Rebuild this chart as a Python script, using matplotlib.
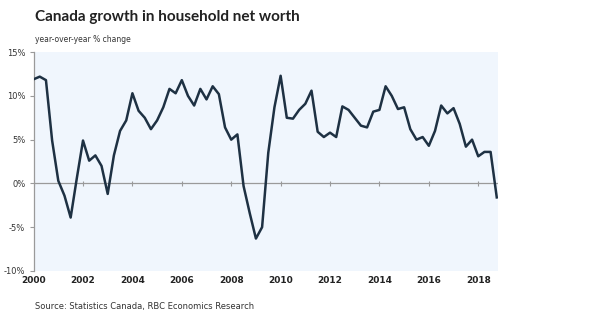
import matplotlib
matplotlib.use("Agg")
import matplotlib.pyplot as plt
import numpy as np

# quarterly, 2000Q1 .. 2018Q4
start_year = 2000
growth = [11.9, 12.2, 11.8, 4.9, 0.3, -1.4, -3.9, 0.6,
          4.9, 2.6, 3.2, 2.0, -1.2, 3.2, 6.0, 7.2,
          10.3, 8.3, 7.5, 6.2, 7.2, 8.7, 10.8, 10.3,
          11.8, 10.0, 8.9, 10.8, 9.6, 11.1, 10.2, 6.4,
          5.0, 5.6, -0.3, -3.4, -6.3, -5.0, 3.5, 8.7,
          12.3, 7.5, 7.4, 8.4, 9.1, 10.6, 5.9, 5.3,
          5.8, 5.3, 8.8, 8.4, 7.5, 6.6, 6.4, 8.2,
          8.4, 11.1, 10.0, 8.5, 8.7, 6.2, 5.0, 5.3,
          4.3, 6.0, 8.9, 8.0, 8.6, 6.8, 4.2, 5.0,
          3.1, 3.6, 3.6, -1.6]
year_ticks = [2000, 2002, 2004, 2006, 2008, 2010, 2012, 2014, 2016, 2018]
pct_ticks = [-10, -5, 0, 5, 10, 15]

x = start_year + np.arange(len(growth)) / 4.0

fig = plt.figure(figsize=(6, 3.3), dpi=100)
ax = fig.add_axes([0.056, 0.179, 0.774, 0.663])
ax.set_facecolor('#f0f6fd')

ax.plot(x, growth, color='#1e3143', lw=1.8, zorder=3)
ax.axhline(0, color='#9a9a9a', lw=0.9, zorder=2)
ax.vlines(year_ticks, -0.25, 0.25, color='#9a9a9a', lw=0.8, zorder=2)

ax.set_xlim(2000, 2018.8)
ax.set_ylim(-10, 15)
ax.set_yticks(pct_ticks)
ax.set_yticklabels([f'{v}%' for v in pct_ticks])
ax.set_xticks(year_ticks)
ax.set_xticklabels([str(y) for y in year_ticks])

for s in ['top', 'right', 'bottom']:
    ax.spines[s].set_visible(False)
ax.spines['left'].set_color('#9a9a9a')
ax.spines['left'].set_linewidth(0.9)
ax.tick_params(axis='y', length=3, color='#9a9a9a', labelsize=6, labelcolor='#333333', pad=3)
ax.tick_params(axis='x', length=0, labelsize=6.5, labelcolor='#222222', pad=4)
for lbl in ax.get_xticklabels():
    lbl.set_fontweight('semibold')

fig.text(0.058, 0.935, 'Canada growth in household net worth', fontsize=11,
         fontweight='bold', family='Lato', color='#222222')
fig.text(0.058, 0.872, 'year-over-year % change', fontsize=5.5, color='#333333')
fig.text(0.058, 0.065, 'Source: Statistics Canada, RBC Economics Research', fontsize=6,
         color='#333333')

fig.savefig('out.png', dpi=100)
